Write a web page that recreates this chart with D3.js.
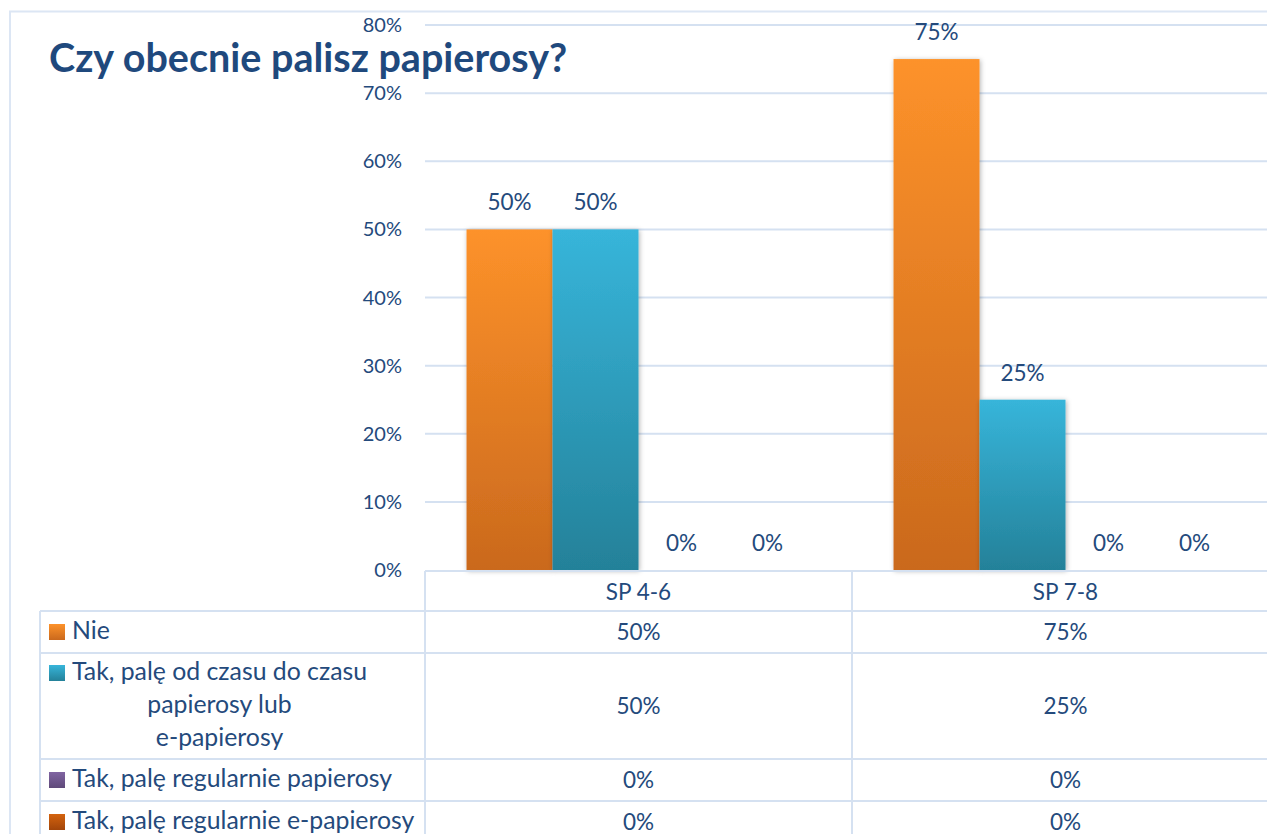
<!DOCTYPE html>
<html lang="pl">
<head>
<meta charset="utf-8" />
<title>Czy obecnie palisz papierosy?</title>
<script src="https://cdn.jsdelivr.net/npm/d3@7"></script>
<style>
  body { margin: 0; background: #fff; }
  text { font-family: Lato, "Open Sans", sans-serif; fill: #244a7c; }
</style>
</head>
<body>
<div id="chart"></div>
<script>
// data
var categories = ["SP 4-6", "SP 7-8"];
var seriesNames = [
  "Nie",
  "Tak, palę od czasu do czasu papierosy lub e-papierosy",
  "Tak, palę regularnie papierosy",
  "Tak, palę regularnie e-papierosy"
];
// label lines in the table (legend column)
var seriesLines = [
  ["Nie"],
  ["Tak, palę od czasu do czasu", "papierosy lub", "e-papierosy"],
  ["Tak, palę regularnie papierosy"],
  ["Tak, palę regularnie e-papierosy"]
];
var nie = [0.50, 0.75];
var takOdCzasu = [0.50, 0.25];
var takPapierosy = [0, 0];
var takEPapierosy = [0, 0];
var yTicks = [0, 0.1, 0.2, 0.3, 0.4, 0.5, 0.6, 0.7, 0.8];

var seriesValues = [nie, takOdCzasu, takPapierosy, takEPapierosy];
var colors = [
  ["#fd922a", "#ca691d"],
  ["#37b5da", "#248199"],
  ["#8064a2", "#5f4a7a"],
  ["#d4630e", "#a2450a"]
];

var width = 1267, height = 834;
var svg = d3.select("#chart").append("svg")
  .attr("width", width).attr("height", height);

var defs = svg.append("defs");
colors.forEach(function(c, i) {
  var g = defs.append("linearGradient").attr("id", "grad" + i)
    .attr("x1", 0).attr("y1", 0).attr("x2", 0).attr("y2", 1);
  g.append("stop").attr("offset", "0%").attr("stop-color", c[0]);
  g.append("stop").attr("offset", "100%").attr("stop-color", c[1]);
});
var f = defs.append("filter").attr("id", "shadow")
  .attr("x", "-20%").attr("y", "-5%").attr("width", "140%").attr("height", "110%");
f.append("feDropShadow").attr("dx", 1).attr("dy", 1).attr("stdDeviation", 2.5)
  .attr("flood-color", "#000").attr("flood-opacity", 0.3);

var lineColor = "#d5e1f1";

// outer frame
svg.append("path")
  .attr("d", "M10," + height + "V11.5H" + width)
  .attr("fill", "none").attr("stroke", "#dce6f4").attr("stroke-width", 2);

// scales
var x = d3.scaleBand().domain(categories).range([425, 1279]).paddingInner(0).paddingOuter(0);
var xi = d3.scaleBand().domain(seriesNames).range([0, x.bandwidth()]).paddingInner(0).paddingOuter(0.483);
var y = d3.scaleLinear().domain([0, 0.8]).range([570, 25]);
var fmt = d3.format(".0%");

// gridlines
svg.append("g").selectAll("line").data(yTicks.slice(1)).join("line")
  .attr("x1", 425).attr("x2", width)
  .attr("y1", function(d) { return y(d); }).attr("y2", function(d) { return y(d); })
  .attr("stroke", lineColor).attr("stroke-width", 2);

// y axis labels
var yAxis = svg.append("g").attr("transform", "translate(425,0)")
  .call(d3.axisLeft(y).tickValues(yTicks).tickFormat(fmt).tickSize(0).tickPadding(23));
yAxis.select(".domain").remove();
yAxis.selectAll("text").attr("fill", "#244a7c").attr("dy", "0.33em").style("font-size", "20px")
  .style("font-family", "Lato, 'Open Sans', sans-serif");

// title
svg.append("text").attr("x", 49).attr("y", 72)
  .style("font-size", "39.5px").style("font-weight", "bold").style("fill", "#1f497d")
  .text("Czy obecnie palisz papierosy?");

// bars
var groups = svg.append("g").selectAll("g").data(categories).join("g")
  .attr("transform", function(d) { return "translate(" + x(d) + ",0)"; });

groups.each(function(cat, ci) {
  var g = d3.select(this);
  seriesNames.forEach(function(s, si) {
    var v = seriesValues[si][ci];
    if (v > 0) {
      g.append("rect")
        .attr("x", xi(s)).attr("width", xi.bandwidth())
        .attr("y", y(v)).attr("height", y(0) - y(v))
        .attr("fill", "url(#grad" + si + ")")
        .attr("filter", "url(#shadow)");
    }
    g.append("text")
      .attr("x", xi(s) + xi.bandwidth() / 2).attr("y", y(v) - 19)
      .attr("text-anchor", "middle").style("font-size", "22.5px")
      .text(fmt(v));
  });
});

// data table
var rowTops = [571, 611, 653, 759, 801, 843];
var tableLeft = 40;
var tbl = svg.append("g");
// horizontal lines
tbl.selectAll("line.h").data(rowTops).join("line").attr("class", "h")
  .attr("x1", function(d, i) { return i === 0 ? 425 : tableLeft; }).attr("x2", width)
  .attr("y1", function(d) { return d; }).attr("y2", function(d) { return d; })
  .attr("stroke", lineColor).attr("stroke-width", 2);
// vertical lines
var vx = [tableLeft, 425, 852];
tbl.selectAll("line.v").data(vx).join("line").attr("class", "v")
  .attr("x1", function(d) { return d; }).attr("x2", function(d) { return d; })
  .attr("y1", function(d) { return d === tableLeft ? 611 : 571; }).attr("y2", height)
  .attr("stroke", lineColor).attr("stroke-width", 2);

// header
tbl.selectAll("text.cat").data(categories).join("text").attr("class", "cat")
  .attr("x", function(d) { return x(d) + x.bandwidth() / 2; })
  .attr("y", (rowTops[0] + rowTops[1]) / 2 + 9)
  .attr("text-anchor", "middle").style("font-size", "22.5px")
  .text(function(d) { return d; });

var lineH = 33;
seriesNames.forEach(function(s, si) {
  var top = rowTops[si + 1], bot = rowTops[si + 2];
  var mid = (top + bot) / 2;
  var lines = seriesLines[si];
  var firstY = mid - (lines.length - 1) * lineH / 2 + 7;
  // legend key
  tbl.append("rect").attr("x", 49).attr("y", firstY - 15).attr("width", 16).attr("height", 16)
    .attr("fill", "url(#grad" + si + ")");
  var t0 = tbl.append("text").attr("x", 72).attr("y", firstY).style("font-size", "24.8px").text(lines[0]);
  var center = 72 + t0.node().getComputedTextLength() / 2;
  for (var k = 1; k < lines.length; k++) {
    tbl.append("text").attr("x", center).attr("y", firstY + k * lineH)
      .attr("text-anchor", "middle").style("font-size", "24.8px").text(lines[k]);
  }
  categories.forEach(function(c, ci) {
    tbl.append("text").attr("x", x(c) + x.bandwidth() / 2).attr("y", mid + 8)
      .attr("text-anchor", "middle").style("font-size", "22.5px")
      .text(fmt(seriesValues[si][ci]));
  });
});
</script>
</body>
</html>
